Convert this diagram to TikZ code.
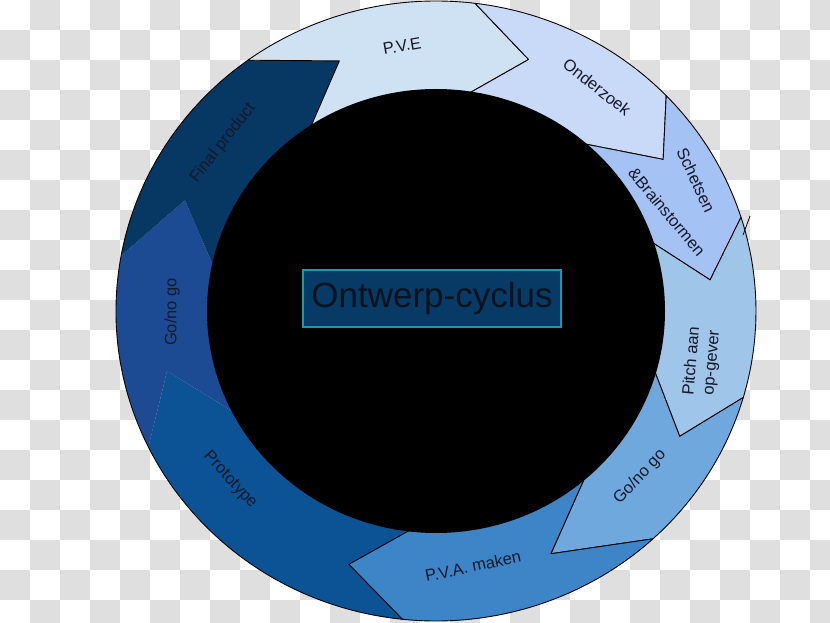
\documentclass[tikz,border=0pt]{standalone}
\usepackage{fontspec}
\setmainfont{Liberation Sans}
\usetikzlibrary{calc,positioning}
\definecolor{checkgray}{HTML}{DFDFDF}
\definecolor{pveblue}{HTML}{CFE2F3}
\definecolor{onderblue}{HTML}{C9DAF8}
\definecolor{schetsblue}{HTML}{A4C2F4}
\definecolor{pitchblue}{HTML}{9FC5E8}
\definecolor{goblue}{HTML}{6FA8DC}
\definecolor{pvablue}{HTML}{3D85C6}
\definecolor{protoblue}{HTML}{0B5394}
\definecolor{gotwoblue}{HTML}{1D4B93}
\definecolor{finalblue}{HTML}{073763}
\definecolor{labeltext}{HTML}{15192A}
\definecolor{titlefill}{HTML}{083A66}
\definecolor{titleedge}{HTML}{1B9AA6}
\definecolor{titletext}{HTML}{0C1220}
\tikzset{
    seg/.style={draw=black,line width=0.9pt,line join=round},
    lbl/.style={text=labeltext,font=\fontsize{16.5}{20}\selectfont,align=center,inner sep=0pt},
    titlebox/.style={draw=titleedge,fill=titlefill,line width=1.2pt,minimum width=258pt,minimum height=57pt,text=titletext,font=\fontsize{35}{40}\selectfont},
    tile/.style={fill=checkgray,draw=none},
}
\begin{document}
\begin{tikzpicture}[x=1pt,y=1pt]
    \useasboundingbox (0,0) rectangle (830,622);
    % transparent backdrop
    \fill[white] (0,0) rectangle (830,622);
    \foreach \row in {0,...,20}{
        \pgfmathsetmacro{\rowy}{622-30*\row}
        \pgfmathsetmacro{\rowx}{30*mod(\row+1,2)}
        \foreach \col in {0,...,13}
            \path[tile] (\rowx+60*\col,\rowy) rectangle ++(30,-30);
    }
    \coordinate (c) at (436,311);
    % dark arrows of the ring
    \foreach \shade/\oa/\ia/\ta/\ob/\ib/\tb in {
        protoblue/-96/-96/-108.4/-154/-152/-167,
        gotwoblue/-154/-152/-167/-190.3/-191.2/-204.5,
        finalblue/-190.3/-191.2/-204.5/-234/-236/-249.5}
        \fill[fill=\shade] (c) ++(\oa:320pt and 310pt)
            arc[start angle=\oa,end angle=\ob,x radius=320pt,y radius=310pt]
            -- ($(c)+(\tb:276pt and 267pt)$) -- ($(c)+(\ib:226pt and 219pt)$)
            arc[start angle=\ib,end angle=\ia,x radius=226pt,y radius=219pt]
            -- ($(c)+(\ta:276pt and 267pt)$) -- cycle;
    \draw[line width=0.9pt] (c) ++(-96:320pt and 310pt)
        arc[start angle=-96,end angle=-234,x radius=320pt,y radius=310pt];
    % light arrows of the ring
    \foreach \shade/\oa/\ia/\ta/\ob/\ib/\tb in {
        pveblue/126/124/110.5/83/82/70.4,
        onderblue/83/82/70.4/44/50/34.6,
        schetsblue/44/50/34.6/17.6/18.6/6.7,
        pitchblue/17.6/18.6/6.7/-16.2/-15.4/-28,
        goblue/-16.2/-15.4/-28/-47.3/-48.4/-65.4,
        pvablue/-47.3/-48.4/-65.4/-96/-96/-108.4}
        \filldraw[seg,fill=\shade] (c) ++(\oa:320pt and 310pt)
            arc[start angle=\oa,end angle=\ob,x radius=320pt,y radius=310pt]
            -- ($(c)+(\tb:276pt and 267pt)$) -- ($(c)+(\ib:226pt and 219pt)$)
            arc[start angle=\ib,end angle=\ia,x radius=226pt,y radius=219pt]
            -- ($(c)+(\ta:276pt and 267pt)$) -- cycle;
    \draw[line width=0.8pt] (743,387) -- (750,406);
    % centre
    \fill[black] (c) ellipse[x radius=229pt,y radius=222pt];
    \node[titlebox] (title) at (432,323.5) {Ontwerp-cyclus};
    % labels
    \node[lbl,rotate=10] (pve) at (402,576) {P.V.E};
    \node[lbl,rotate=-38] (onderzoek) at (597,535) {Onderzoek};
    \node[lbl,rotate=-65] (schetsen) at (696,442) {Schetsen};
    \node[lbl,rotate=-50] (brainstorm) at (667,410) {\&Brainstormen};
    \node[lbl,rotate=85] (pitch) at (702,260) {Pitch aan\\op-gever};
    \node[lbl,rotate=47] (goA) at (640,145) {Go/no go};
    \node[lbl,rotate=12] (pva) at (473,56) {P.V.A. maken};
    \node[lbl,rotate=-47] (proto) at (230,142) {Prototype};
    \node[lbl,rotate=90] (goB) at (172,310) {Go/no go};
    \node[lbl,rotate=52] (final) at (223,479) {Final product};
\end{tikzpicture}
\end{document}
